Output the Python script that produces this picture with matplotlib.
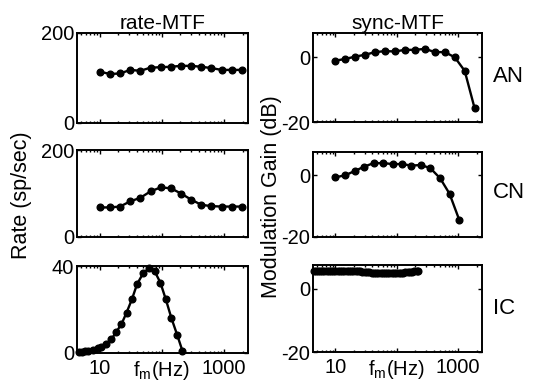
import matplotlib
matplotlib.use("Agg")
import matplotlib.pyplot as plt
from matplotlib.ticker import FixedLocator, LogLocator, NullFormatter

plt.rcParams['font.family'] = ['Liberation Sans', 'DejaVu Sans']
plt.rcParams['axes.unicode_minus'] = False
plt.rcParams['mathtext.default'] = 'regular'

# ---------------- data ----------------
freq_an_rate = [10, 14.6, 21.2, 31, 45, 66, 96, 140, 204, 297, 433, 631, 920, 1340, 1950]
rate_an = [114, 109, 110, 118, 116, 123, 124, 125, 127, 127, 125, 122, 118, 118, 118]

freq_cn_rate = [10, 14.6, 21.2, 31, 45, 66, 96, 140, 204, 297, 433, 631, 920, 1340, 1950]
rate_cn = [68, 68, 70, 82, 90, 105, 114, 112, 100, 86, 74, 71, 70, 70, 70]

freq_ic = [4.6, 5.1, 5.8, 6.5, 7.8, 9.4, 10.6, 12.5, 15.4, 18.6, 22.4, 27, 33, 40, 50, 62, 77, 95, 116, 143, 177, 215]
rate_ic = [0.3, 0.6, 0.8, 0.9, 1.4, 2.2, 2.9, 4.0, 6.3, 9.8, 13.3, 18.5, 24.7, 31.7, 36.6, 39, 37.5, 32.3, 24.7, 16, 8.3, 1.0]

freq_ic_sync = [4.4, 4.8, 5.2, 5.6, 6.1, 6.6, 7.2, 7.8, 8.5, 9.2, 10, 10.9, 11.8, 12.8, 14, 15.2,
                16.5, 18, 19.6, 21.3, 23.2, 25.3, 27.5, 30, 32.6, 35.5, 38.7, 42, 46, 50,
                54.5, 59, 64.5, 70, 76, 83, 90, 98, 107, 116, 126, 137, 150, 163, 178, 194, 211, 225]
sync_ic = [5.6, 5.6, 5.6, 5.6, 5.6, 5.6, 5.6, 5.6, 5.6, 5.6, 5.6, 5.6, 5.6, 5.6, 5.6, 5.6,
           5.6, 5.6, 5.6, 5.6, 5.5, 5.5, 5.4, 5.3, 5.2, 5.2, 5.1, 5.1, 5.0, 5.0,
           5.0, 5.0, 5.0, 5.0, 5.0, 5.0, 5.0, 5.0, 5.0, 5.1, 5.1, 5.2, 5.3, 5.4, 5.4, 5.5, 5.6, 5.6]

freq_an_sync = [10, 14.5, 21, 30.6, 44.5, 64.6, 94, 136, 198, 288, 418, 607, 882, 1280, 1860]
sync_an = [-1.05, -0.5, 0.2, 0.8, 1.6, 1.9, 1.8, 2.3, 2.3, 2.6, 1.6, 1.6, 0.0, -4.2, -15.8]

freq_cn_sync = [10, 14.5, 20.6, 29.6, 41.9, 59.7, 85.6, 122, 172, 246, 351, 509, 724, 1040]
sync_cn = [-0.7, 0.0, 1.35, 2.8, 3.9, 3.9, 3.6, 3.6, 3.1, 3.3, 2.3, -1.0, -6.0, -14.4]

row_names = ["AN", "CN", "IC"]
col_titles = ["rate-MTF", "sync-MTF"]
xtick_vals = [10, 100, 1000]
xtick_labels = ["10", "$f_m$(Hz)", "1000"]
xlim = (4.3, 2450)

# ---------------- figure ----------------
W, H = 533, 390
fig = plt.figure(figsize=(W / 100, H / 100), dpi=100)

def ax_at(x0, y0, x1, y1):
    return fig.add_axes([x0 / W, 1 - y1 / H, (x1 - x0) / W, (y1 - y0) / H])

left_boxes = [(77, 33, 248, 123), (77, 150, 248, 237), (77, 266, 248, 353)]
right_boxes = [(313, 33, 482, 122), (313, 152, 482, 237), (313, 265, 482, 352)]

left_data = [(freq_an_rate, rate_an, (0, 200), [0, 200]),
             (freq_cn_rate, rate_cn, (0, 200), [0, 200]),
             (freq_ic, rate_ic, (0, 40), [0, 40])]
right_data = [(freq_an_sync, sync_an), (freq_cn_sync, sync_cn), (freq_ic_sync, sync_ic)]

TICK_FS = 14.5

def style(ax, bottom):
    ax.set_xscale('log')
    ax.set_xlim(*xlim)
    ax.xaxis.set_major_locator(FixedLocator(xtick_vals))
    ax.xaxis.set_minor_locator(LogLocator(base=10, subs=range(2, 10)))
    ax.xaxis.set_minor_formatter(NullFormatter())
    if bottom:
        ax.set_xticklabels(xtick_labels)
    else:
        ax.set_xticklabels([])
    ax.tick_params(which='both', direction='in', top=True, right=True,
                   labelsize=TICK_FS, width=1, pad=2)
    ax.tick_params(axis='x', which='major', length=3, pad=4)
    ax.tick_params(axis='x', which='minor', length=1.5)
    ax.tick_params(axis='y', which='major', length=3)
    for s in ax.spines.values():
        s.set_linewidth(1.4)

for i in range(3):
    ax = ax_at(*left_boxes[i])
    f, v, yl, yt = left_data[i]
    ax.plot(f, v, '-o', color='black', lw=1.7, ms=4.8, clip_on=False)
    ax.set_ylim(*yl)
    ax.set_yticks(yt)
    style(ax, i == 2)
    if i == 0:
        ax.set_title(col_titles[0], fontsize=15, pad=3)

    ax2 = ax_at(*right_boxes[i])
    f, v = right_data[i]
    ax2.plot(f, v, '-o', color='black', lw=1.7, ms=4.8, clip_on=False)
    ax2.set_ylim(-20, 7.5)
    ax2.set_yticks([-20, 0])
    style(ax2, i == 2)
    if i == 0:
        ax2.set_title(col_titles[1], fontsize=15, pad=3)

row_y = [76, 193, 308]
for name, y in zip(row_names, row_y):
    fig.text(493 / W, 1 - y / H, name, fontsize=16, ha='left', va='center')

fig.text(22 / W, 1 - 195 / H, "Rate (sp/sec)", rotation=90, fontsize=15.5,
         ha='center', va='center')
fig.text(271 / W, 1 - 197 / H, "Modulation Gain (dB)", rotation=90, fontsize=15.5,
         ha='center', va='center')

fig.savefig("out.png", dpi=100)
